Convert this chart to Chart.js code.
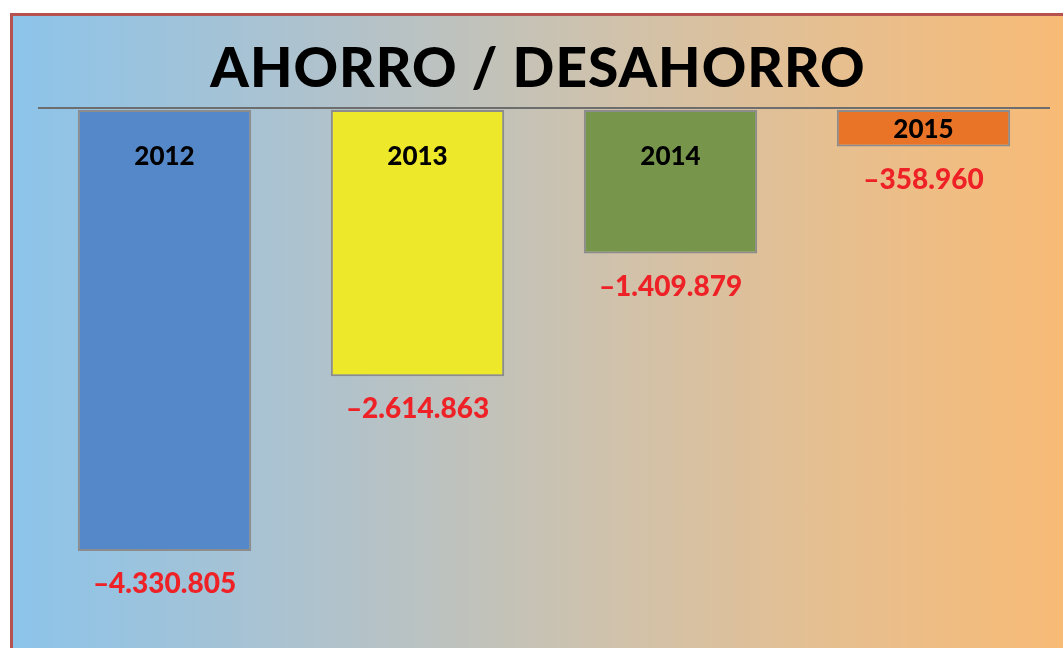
<!DOCTYPE html>
<html>
<head>
<meta charset="utf-8">
<title>Ahorro / Desahorro</title>
<script src="https://cdn.jsdelivr.net/npm/chart.js@4"></script>
<style>
  html, body { margin: 0; padding: 0; background: #fff; }
  body { width: 1063px; height: 648px; position: relative; overflow: hidden; }
  #panel {
    position: absolute; left: 10px; top: 13px; width: 1053px; height: 635px;
    box-sizing: border-box;
    border-top: 3px solid #b5524f; border-left: 3px solid #b5524f;
    background: linear-gradient(to right, #8cc4ea 0%, #b0c2cc 30%, #cdc2ae 55%, #e6bf90 78%, #f8bb76 100%);
  }
  #title {
    position: absolute; left: 0; right: 0; top: 17px; margin: 0;
    text-align: center; font-family: Lato, "DejaVu Sans", sans-serif;
    font-weight: 900; font-size: 55px; color: #000; letter-spacing: 1px;
  }
  #chartBox { position: absolute; left: 0; top: 0; width: 1050px; height: 632px; }
</style>
</head>
<body>
<div id="panel">
  <h1 id="title">AHORRO / DESAHORRO</h1>
  <div id="chartBox"><canvas id="savings"></canvas></div>
</div>
<script>
// yearly savings (negative = dissaving)
const years = ['2012', '2013', '2014', '2015'];
const savings = [-4330805, -2614863, -1409879, -358960];
const barColors = ['#5588c8', '#eee82a', '#77964b', '#e97428'];

const fmtValue = (v) => (v < 0 ? '–' : '') + Math.abs(v).toLocaleString('de-DE');

// grey zero line under the bars
const zeroLine = {
  id: 'zeroLine',
  beforeDatasetsDraw(chart) {
    const { ctx, chartArea, scales } = chart;
    const y = scales.y.getPixelForValue(0) - 2;
    ctx.save();
    ctx.strokeStyle = '#6d6d6d';
    ctx.lineWidth = 2;
    ctx.beginPath();
    ctx.moveTo(chartArea.left, y);
    ctx.lineTo(chartArea.right, y);
    ctx.stroke();
    ctx.restore();
  }
};

// year inside each bar, amount below it
const barLabels = {
  id: 'barLabels',
  afterDatasetsDraw(chart) {
    const { ctx } = chart;
    const meta = chart.getDatasetMeta(0);
    ctx.save();
    ctx.textAlign = 'center';
    ctx.textBaseline = 'middle';
    meta.data.forEach((bar, i) => {
      const top = Math.min(bar.y, bar.base);
      const bottom = Math.max(bar.y, bar.base);
      const yearY = Math.min(top + 47, (top + bottom) / 2 + 1);
      ctx.fillStyle = '#000';
      ctx.font = '900 26px Lato, "DejaVu Sans", sans-serif';
      ctx.fillText(years[i], bar.x, yearY);
      ctx.fillStyle = '#ee2226';
      ctx.font = '900 28px Lato, "DejaVu Sans", sans-serif';
      ctx.fillText(fmtValue(savings[i]), bar.x, bottom + 33);
    });
    ctx.restore();
  }
};

new Chart(document.getElementById('savings'), {
  type: 'bar',
  data: {
    labels: years,
    datasets: [{
      data: savings,
      backgroundColor: barColors,
      borderColor: '#8c8c8c',
      borderWidth: 2,
      borderSkipped: false,
      categoryPercentage: 1,
      barPercentage: 0.685
    }]
  },
  options: {
    responsive: true,
    maintainAspectRatio: false,
    animation: false,
    layout: { padding: { left: 25, right: 13, top: 94, bottom: 29 } },
    plugins: { legend: { display: false }, tooltip: { enabled: false } },
    scales: {
      x: { display: false },
      y: { display: false, min: -5000000, max: 0 }
    }
  },
  plugins: [zeroLine, barLabels]
});
</script>
</body>
</html>
